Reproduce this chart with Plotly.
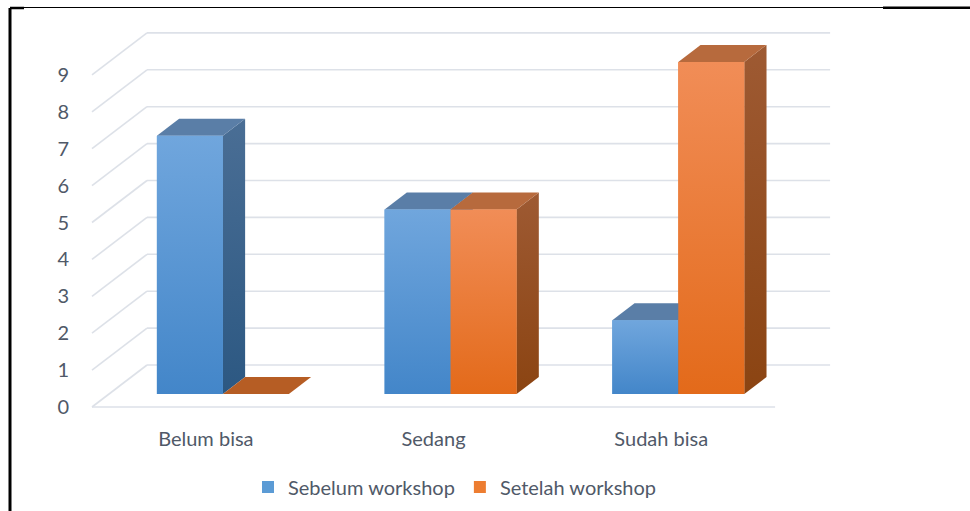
import plotly.graph_objects as go

# ---- data -------------------------------------------------------------
categories = ["Belum bisa", "Sedang", "Sudah bisa"]
series_names = ["Sebelum workshop", "Setelah workshop"]
sebelum = [7, 5, 2]
setelah = [0, 5, 9]
y_ticks = [0, 1, 2, 3, 4, 5, 6, 7, 8, 9]

# ---- geometry of the oblique 3-D look (in axis units) -------------------
W, H = 970, 511
ML, MR, MT, MB = 78, 120, 20, 91
PX_X = 227.7          # pixels per category unit
PX_Y = 36.9           # pixels per value unit
X0_PX, Y0_PX = 92, 407  # pixel position of (x=-0.5, y=0)

WALL_DX = 55 / PX_X   # full depth of the floor / wall
WALL_DY = 42 / PX_Y
D_FRONT, D_BACK = 0.31, 0.714   # bar front / back depth fraction
BAR_W = 66 / PX_X

plot_w = W - ML - MR
plot_h = H - MT - MB
x_range = [-0.5 - (X0_PX - ML) / PX_X, -0.5 + (W - MR - X0_PX) / PX_X]
y_range = [-(MT + plot_h - Y0_PX) / PX_Y, (Y0_PX - MT) / PX_Y]

FONT = "Lato"
FS = 20
TXT = "#505968"
GRID = "#dde1e8"

styles = [
    dict(bar="#5b9bd5", front=("#4386c9", "#70a6dd"), top="#5a7ea7",
         top_zero="#4a6f98", side=("#2c5882", "#4a6e95")),
    dict(bar="#ed7d31", front=("#e36a1a", "#f18d57"), top="#b76a3d",
         top_zero="#b65d24", side=("#8b4412", "#9e5a33")),
]

fig = go.Figure()

# real bars (front plane) – also provide the legend entries
for s, (name, vals) in enumerate(zip(series_names, [sebelum, setelah])):
    off = -BAR_W / 2 if s == 0 else BAR_W / 2
    fig.add_trace(go.Bar(
        x=[i + D_FRONT * WALL_DX + off for i in range(len(categories))],
        y=vals, base=D_FRONT * WALL_DY, width=BAR_W, name=name,
        marker=dict(color=styles[s]["bar"], line=dict(width=0)),
        hoverinfo="skip",
    ))


def poly(xs, ys, color=None, grad=None):
    kw = dict(x=xs + [xs[0]], y=ys + [ys[0]], mode="lines", fill="toself",
              line=dict(width=0), showlegend=False, hoverinfo="skip")
    if grad is not None:
        kw["fillgradient"] = dict(type="vertical",
                                  colorscale=[[0, grad[0]], [1, grad[1]]])
        kw["fillcolor"] = grad[1]
    else:
        kw["fillcolor"] = color
    fig.add_trace(go.Scatter(**kw))


ddx = (D_BACK - D_FRONT) * WALL_DX
ddy = (D_BACK - D_FRONT) * WALL_DY
base = D_FRONT * WALL_DY

# extruded faces, painted back-to-front per category
for i in range(len(categories)):
    for s, vals in enumerate([sebelum, setelah]):
        v = vals[i]
        st = styles[s]
        cx = i + D_FRONT * WALL_DX + (-BAR_W / 2 if s == 0 else BAR_W / 2)
        x0, x1 = cx - BAR_W / 2, cx + BAR_W / 2
        t = base + v
        if v > 0:
            poly([x1, x1 + ddx, x1 + ddx, x1],
                 [base, base + ddy, t + ddy, t], grad=st["side"])
        poly([x0, x1, x1 + ddx, x0 + ddx], [t, t, t + ddy, t + ddy],
             color=st["top"] if v > 0 else st["top_zero"])
        if v > 0:
            poly([x0, x1, x1, x0], [base, base, t, t], grad=st["front"])

# wall / floor gridlines
shapes = []
xl, xr = -0.5, len(categories) - 0.5
for k in y_ticks:
    shapes.append(dict(type="line", layer="below", x0=xl + WALL_DX, x1=xr + WALL_DX,
                       y0=k + WALL_DY, y1=k + WALL_DY,
                       line=dict(color=GRID, width=1.6)))
    shapes.append(dict(type="line", layer="below", x0=xl, x1=xl + WALL_DX,
                       y0=k, y1=k + WALL_DY, line=dict(color=GRID, width=1.6)))
shapes.append(dict(type="line", layer="below", x0=xl, x1=xr, y0=0, y1=0,
                   line=dict(color=GRID, width=1.6)))


# page frame
def px(xp):
    return (xp - ML) / plot_w


def py(yp):
    return (MT + plot_h - yp) / plot_h


frame = [
    (10, 8, 10, 511, 3),
    (10, 7.5, 883, 7.5, 1.2),
    (10, 8, 24, 8, 2.5),
    (883, 7.7, 970, 7.7, 2.5),
]
for a, b, c, d, wdt in frame:
    shapes.append(dict(type="line", xref="paper", yref="paper",
                       x0=px(a), y0=py(b), x1=px(c), y1=py(d),
                       line=dict(color="black", width=wdt)))

fig.update_layout(
    width=W, height=H,
    margin=dict(l=ML, r=MR, t=MT, b=MB),
    paper_bgcolor="white", plot_bgcolor="white",
    barmode="overlay",
    shapes=shapes,
    font=dict(family=FONT, size=FS, color=TXT),
    xaxis=dict(range=x_range, tickvals=list(range(len(categories))),
               ticktext=categories, showgrid=False, zeroline=False,
               showline=False, ticks="outside", ticklen=1,
               tickcolor="rgba(0,0,0,0)", fixedrange=True),
    yaxis=dict(range=y_range, tickvals=y_ticks, showgrid=False,
               zeroline=False, showline=False, ticks="outside", ticklen=4,
               tickcolor="rgba(0,0,0,0)", fixedrange=True),
    legend=dict(orientation="h", xref="container", yref="container",
                x=455 / W, y=1 - 487 / H, xanchor="center", yanchor="middle",
                font=dict(family=FONT, size=FS, color=TXT),
                itemwidth=30, traceorder="normal"),
    showlegend=True,
)

fig.write_html("out.html")
